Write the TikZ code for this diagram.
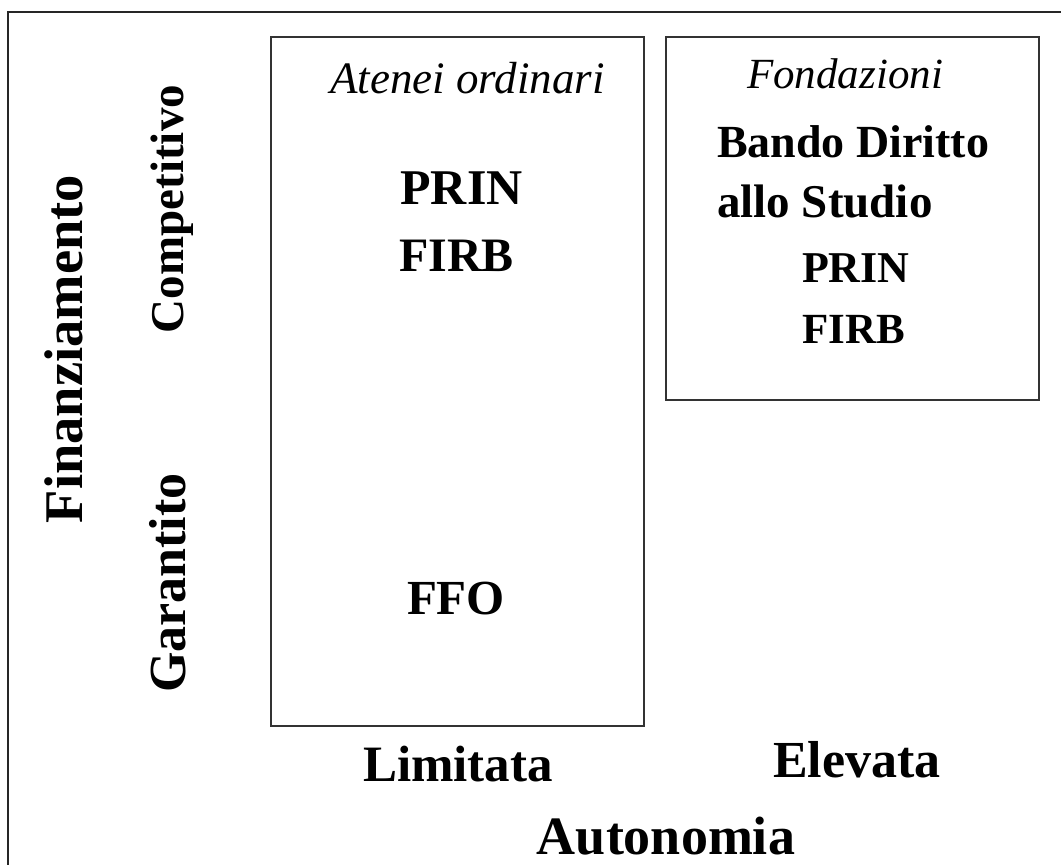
\documentclass[tikz,border=0pt]{standalone}
\usepackage{fontspec}
\setmainfont{Liberation Serif}
\newcommand{\bsz}[1]{\bfseries\fontsize{#1}{#1}\selectfont}
\newcommand{\isz}[1]{\itshape\fontsize{#1}{#1}\selectfont}
\tikzset{
  frameline/.style={line width=1.4pt, draw=black!85},
  boxline/.style={line width=1.3pt, draw=black!80},
  lbl/.style={inner sep=0pt, outer sep=0pt, anchor=base},
  lblw/.style={inner sep=0pt, outer sep=0pt, anchor=base west},
}
\begin{document}
\begin{tikzpicture}[x=1pt,y=1pt]
\useasboundingbox (0,0) rectangle (1061,-865);
\fill[white] (0,0) rectangle (1061,-865);
% outer frame (only top and left edges visible)
\coordinate (ftl) at (8,-12);
\coordinate (ftr) at (1061,-12);
\coordinate (fbl) at (8,-865);
\draw[frameline] (ftr) -- (ftl) -- (fbl);
% boxes
\draw[boxline] (271,-37) rectangle (644,-726);
\draw[boxline] (666,-37) rectangle (1039,-400);
% box 1 texts
\node[lbl, font=\isz{45}] (atenei) at (467.5,-93) {Atenei ordinari};
\node[lbl, font=\bsz{50}] (prin1) at (461.5,-204) {PRIN};
\node[lbl, font=\bsz{48}] (firb1) at (456.5,-271) {FIRB};
\node[lbl, font=\bsz{49}] (ffo) at (456,-614) {FFO};
% box 2 texts
\node[lbl, font=\isz{43}] (fond) at (845,-88) {Fondazioni};
\node[lblw, font=\bsz{46}] (bando) at (717,-157) {Bando Diritto};
\node[lblw, font=\bsz{47}] (allo) at (717,-217) {allo Studio};
\node[lblw, font=\bsz{44}] (prin2) at (802,-282) {PRIN};
\node[lblw, font=\bsz{43}] (firb2) at (802,-343) {FIRB};
% bottom axis labels
\node[lbl, font=\bsz{51}] (limitata) at (458,-781) {Limitata};
\node[lbl, font=\bsz{52}] (elevata) at (857,-777) {Elevata};
\node[lbl, font=\bsz{54}, text depth=0pt] (autonomia) at (666,-854) {Autonomia};
% vertical axis labels
\node[lbl, rotate=90, font=\bsz{54.5}] (finanz) at (82,-349) {Finanziamento};
\node[lbl, rotate=90, font=\bsz{47}] (compet) at (183,-209) {Competitivo};
\node[lbl, rotate=90, font=\bsz{52}] (garant) at (185,-583) {Garantito};
\end{tikzpicture}
\end{document}
